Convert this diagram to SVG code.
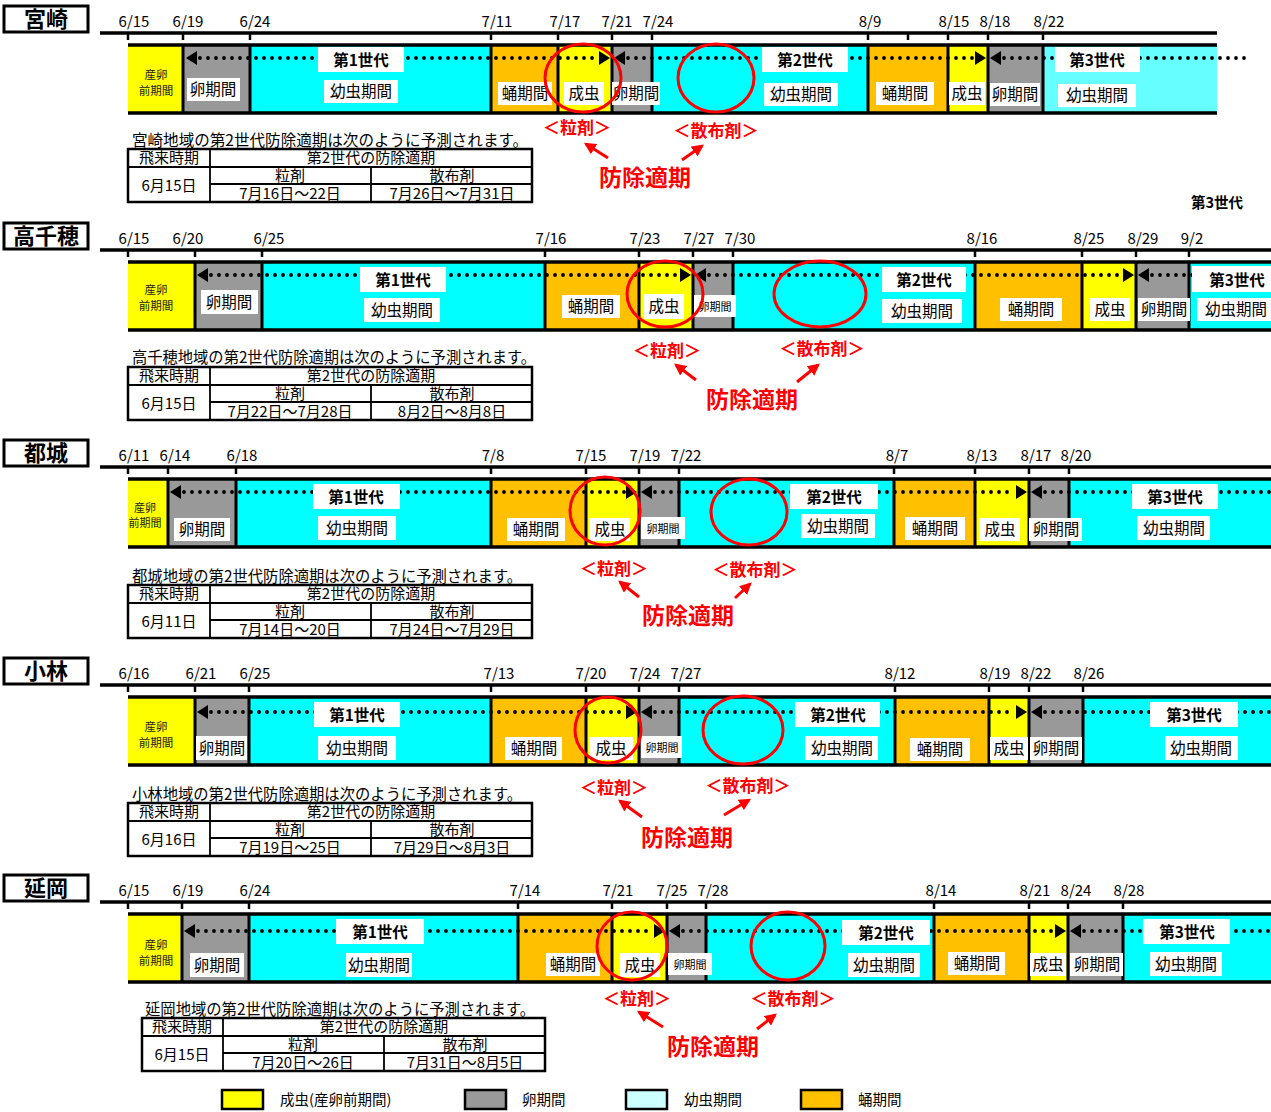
<svg xmlns="http://www.w3.org/2000/svg" width="1271" height="1112" viewBox="0 0 1271 1112">
<style>
text{font-family:"Noto Sans CJK JP","Noto Sans CJK SC",sans-serif;fill:#000}
.ttl{font-size:22px;font-weight:bold;text-anchor:middle}
.dt{font-size:15px;text-anchor:middle}
.lab{font-size:15.5px;text-anchor:middle}
.sm{font-size:11px;text-anchor:middle}
.gen{font-size:15.5px;font-weight:bold;text-anchor:middle}
.egg{font-size:11.5px;text-anchor:middle;fill:#222}
.tbt{font-size:15px;text-anchor:middle}
.intro{font-size:15.5px}
.rl{font-size:17px;font-weight:bold;fill:#f00;text-anchor:middle}
.rb{font-size:23px;font-weight:bold;fill:#f00;text-anchor:middle}
.tbox{fill:#fff;stroke:#000;stroke-width:3}
.axis{stroke:#000;stroke-width:3.5;fill:none}
.tick{stroke:#000;stroke-width:2.5;fill:none}
.bl{stroke:#000;stroke-width:3.5;fill:none}
.sep{stroke:#000;stroke-width:3;fill:none}
.y{fill:#ffff00}.g{fill:#999}.c{fill:#00ffff}.o{fill:#ffc000}.lc{fill:#66ffff}
.w{fill:#fff}
.dots{stroke:#000;stroke-width:3.8;stroke-linecap:round;stroke-dasharray:0 8;fill:none}
.circ{fill:none;stroke:#f00;stroke-width:3}
.ra{stroke:#f00;stroke-width:3;fill:none}
.tab{fill:#fff;stroke:#000;stroke-width:2.5}
.tl{stroke:#000;stroke-width:1.8;fill:none}
.lg{stroke:#000;stroke-width:2.5}
.lgt{font-size:14.5px}
</style>
<defs>
<marker id="rah" viewBox="0 0 10 10" refX="8" refY="5" markerWidth="4" markerHeight="4" orient="auto"><path d="M0 0L10 5L0 10z" fill="#f00"/></marker>
</defs>

<!-- 宮崎 -->
<g id="miyazaki">
<rect class="tbox" x="4" y="6" width="84" height="26"/>
<text class="ttl" x="46" y="27">宮崎</text>
<g class="dates">
<text class="dt" x="134" y="27">6/15</text><text class="dt" x="188" y="27">6/19</text><text class="dt" x="255" y="27">6/24</text><text class="dt" x="497" y="27">7/11</text><text class="dt" x="565" y="27">7/17</text><text class="dt" x="617" y="27">7/21</text><text class="dt" x="658" y="27">7/24</text><text class="dt" x="870" y="27">8/9</text><text class="dt" x="954" y="27">8/15</text><text class="dt" x="995" y="27">8/18</text><text class="dt" x="1049" y="27">8/22</text>
</g>
<line class="axis" x1="100" y1="33" x2="1217" y2="33"/>
<path class="tick" d="M128 33v7M183 33v7M250 33v7M491 33v7M558 33v7M612 33v7M652 33v7M868 33v7M908 33v7M948 33v7M988 33v7M1043 33v7"/>
<rect class="y" x="128" y="45" width="55" height="68"/>
<rect class="g" x="183" y="45" width="67" height="68"/>
<rect class="c" x="250" y="45" width="241" height="68"/>
<rect class="o" x="491" y="45" width="67" height="68"/>
<rect class="y" x="558" y="45" width="54" height="68"/>
<rect class="g" x="612" y="45" width="40" height="68"/>
<rect class="c" x="652" y="45" width="216" height="68"/>
<rect class="o" x="868" y="45" width="80" height="68"/>
<rect class="y" x="948" y="45" width="40" height="68"/>
<rect class="g" x="988" y="45" width="55" height="68"/>
<rect class="lc" x="1043" y="45" width="174" height="68"/>
<path class="bl" d="M128 45H1217M128 113H1217"/>
<path class="sep" d="M183 45V113M250 45V113M491 45V113M558 45V113M612 45V113M652 45V113M868 45V113M948 45V113M988 45V113M1043 45V113"/>
<line class="dots" x1="200" y1="58" x2="598" y2="58"/>
<polygon points="186,58 197,51 197,65"/><polygon points="610,58 599,51 599,65"/>
<line class="dots" x1="628" y1="58" x2="974" y2="58"/>
<polygon points="614,58 625,51 625,65"/><polygon points="986,58 975,51 975,65"/>
<line class="dots" x1="1004" y1="58" x2="1245" y2="58"/>
<polygon points="990,58 1001,51 1001,65"/>
<rect class="w" x="318" y="47" width="86" height="25"/><text class="gen" x="361" y="66">第1世代</text>
<rect class="w" x="762" y="47" width="86" height="25"/><text class="gen" x="805" y="66">第2世代</text>
<rect class="w" x="1055" y="47" width="85" height="25"/><text class="gen" x="1097" y="66">第3世代</text>
<text class="egg" x="156" y="79">産卵</text><text class="egg" x="156" y="95">前期間</text>
<rect class="w" x="187" y="78" width="53" height="23"/><text class="lab" x="213" y="95">卵期間</text>
<rect class="w" x="324" y="80" width="74" height="23"/><text class="lab" x="361" y="97">幼虫期間</text>
<rect class="w" x="498" y="82" width="54" height="23"/><text class="lab" x="525" y="99">蛹期間</text>
<rect class="w" x="564" y="82" width="40" height="23"/><text class="lab" x="584" y="99">成虫</text>
<rect class="w" x="612" y="82" width="48" height="23"/><text class="lab" x="636" y="99">卵期間</text>
<rect class="w" x="764" y="83" width="74" height="23"/><text class="lab" x="801" y="100">幼虫期間</text>
<rect class="w" x="876" y="82" width="58" height="23"/><text class="lab" x="905" y="99">蛹期間</text>
<rect class="w" x="949" y="82" width="36" height="23"/><text class="lab" x="967" y="99">成虫</text>
<rect class="w" x="990" y="83" width="50" height="23"/><text class="lab" x="1015" y="100">卵期間</text>
<rect class="w" x="1058" y="84" width="78" height="23"/><text class="lab" x="1097" y="101">幼虫期間</text>
<ellipse class="circ" cx="583" cy="78" rx="38" ry="34"/>
<ellipse class="circ" cx="716" cy="78" rx="38" ry="34"/>
<text class="rl" x="577" y="134">＜粒剤＞</text>
<text class="rl" x="716" y="137">＜散布剤＞</text>
<text class="rb" x="645" y="186">防除適期</text>
<text class="intro" x="132" y="146" textLength="396" lengthAdjust="spacingAndGlyphs">宮崎地域の第2世代防除適期は次のように予測されます。</text>
<rect class="tab" x="128" y="149" width="404" height="53"/>
<path class="tl" d="M128 167H532M210 184H532M210 149V202M371 167V202"/>
<text class="tbt" x="169" y="163">飛来時期</text><text class="tbt" x="371" y="163">第2世代の防除適期</text>
<text class="tbt" x="290" y="181">粒剤</text><text class="tbt" x="452" y="181">散布剤</text>
<text class="tbt" x="169" y="191">6月15日</text>
<text class="tbt" x="290" y="199">7月16日～22日</text><text class="tbt" x="452" y="199">7月26日～7月31日</text>
<text class="gen" x="1217" y="208" style="font-size:14.5px">第3世代</text>
</g>

<!-- 高千穂 -->
<g id="takachiho" transform="translate(0,217)">
<rect class="tbox" x="4" y="6" width="84" height="26"/>
<text class="ttl" x="46" y="27">高千穂</text>
<g class="dates">
<text class="dt" x="134" y="27">6/15</text><text class="dt" x="188" y="27">6/20</text><text class="dt" x="269" y="27">6/25</text><text class="dt" x="551" y="27">7/16</text><text class="dt" x="645" y="27">7/23</text><text class="dt" x="699" y="27">7/27</text><text class="dt" x="740" y="27">7/30</text><text class="dt" x="982" y="27">8/16</text><text class="dt" x="1089" y="27">8/25</text><text class="dt" x="1143" y="27">8/29</text><text class="dt" x="1192" y="27">9/2</text>
</g>
<line class="axis" x1="100" y1="33" x2="1271" y2="33"/>
<path class="tick" d="M128 33v7M195 33v7M262 33v7M545 33v7M639 33v7M693 33v7M733 33v7M975 33v7M1082 33v7M1136 33v7M1189 33v7"/>
<rect class="y" x="128" y="45" width="67" height="68"/>
<rect class="g" x="195" y="45" width="67" height="68"/>
<rect class="c" x="262" y="45" width="283" height="68"/>
<rect class="o" x="545" y="45" width="94" height="68"/>
<rect class="y" x="639" y="45" width="54" height="68"/>
<rect class="g" x="693" y="45" width="40" height="68"/>
<rect class="c" x="733" y="45" width="242" height="68"/>
<rect class="o" x="975" y="45" width="107" height="68"/>
<rect class="y" x="1082" y="45" width="54" height="68"/>
<rect class="g" x="1136" y="45" width="53" height="68"/>
<rect class="c" x="1189" y="45" width="82" height="68"/>
<path class="bl" d="M128 45H1271M128 113H1271"/>
<path class="sep" d="M195 45V113M262 45V113M545 45V113M639 45V113M693 45V113M733 45V113M975 45V113M1082 45V113M1136 45V113M1189 45V113"/>
<line class="dots" x1="211" y1="58" x2="679" y2="58"/>
<polygon points="197,58 208,51 208,65"/><polygon points="691,58 680,51 680,65"/>
<line class="dots" x1="709" y1="58" x2="1122" y2="58"/>
<polygon points="695,58 706,51 706,65"/><polygon points="1134,58 1123,51 1123,65"/>
<line class="dots" x1="1152" y1="58" x2="1271" y2="58"/>
<polygon points="1138,58 1149,51 1149,65"/>
<rect class="w" x="360" y="50" width="86" height="25"/><text class="gen" x="403" y="69">第1世代</text>
<rect class="w" x="882" y="50" width="84" height="25"/><text class="gen" x="924" y="69">第2世代</text>
<rect class="w" x="1192" y="49" width="79" height="26"/><text class="gen" x="1237" y="69">第3世代</text>
<text class="egg" x="156" y="77">産卵</text><text class="egg" x="156" y="93">前期間</text>
<rect class="w" x="201" y="73" width="57" height="24"/><text class="lab" x="229" y="91">卵期間</text>
<rect class="w" x="364" y="81" width="76" height="24"/><text class="lab" x="402" y="99">幼虫期間</text>
<rect class="w" x="562" y="78" width="58" height="23"/><text class="lab" x="591" y="95">蛹期間</text>
<rect class="w" x="644" y="77" width="40" height="25"/><text class="lab" x="664" y="95">成虫</text>
<rect class="w" x="694" y="78" width="42" height="22"/><text class="sm" x="715" y="94">卵期間</text>
<rect class="w" x="882" y="82" width="80" height="24"/><text class="lab" x="922" y="100">幼虫期間</text>
<rect class="w" x="1000" y="81" width="62" height="23"/><text class="lab" x="1031" y="98">蛹期間</text>
<rect class="w" x="1090" y="81" width="40" height="23"/><text class="lab" x="1110" y="98">成虫</text>
<rect class="w" x="1138" y="81" width="52" height="23"/><text class="lab" x="1164" y="98">卵期間</text>
<rect class="w" x="1197" y="81" width="74" height="23"/><text class="lab" x="1236" y="98">幼虫期間</text>
<ellipse class="circ" cx="665" cy="77" rx="38" ry="33"/>
<ellipse class="circ" cx="820" cy="77" rx="46" ry="33"/>
<text class="rl" x="667" y="140">＜粒剤＞</text>
<text class="rl" x="822" y="138">＜散布剤＞</text>
<text class="rb" x="752" y="191">防除適期</text>
<text class="intro" x="132" y="146" textLength="404" lengthAdjust="spacingAndGlyphs">高千穂地域の第2世代防除適期は次のように予測されます。</text>
<rect class="tab" x="128" y="150" width="404" height="53"/>
<path class="tl" d="M128 168H532M210 185H532M210 150V203M371 168V203"/>
<text class="tbt" x="169" y="164">飛来時期</text><text class="tbt" x="371" y="164">第2世代の防除適期</text>
<text class="tbt" x="290" y="182">粒剤</text><text class="tbt" x="452" y="182">散布剤</text>
<text class="tbt" x="169" y="192">6月15日</text>
<text class="tbt" x="290" y="200">7月22日～7月28日</text><text class="tbt" x="452" y="200">8月2日～8月8日</text>
</g>

<!-- 都城 -->
<g id="miyakonojo" transform="translate(0,434)">
<rect class="tbox" x="4" y="6" width="84" height="26"/>
<text class="ttl" x="46" y="27">都城</text>
<g class="dates">
<text class="dt" x="134" y="27">6/11</text><text class="dt" x="175" y="27">6/14</text><text class="dt" x="242" y="27">6/18</text><text class="dt" x="493" y="27">7/8</text><text class="dt" x="591" y="27">7/15</text><text class="dt" x="645" y="27">7/19</text><text class="dt" x="686" y="27">7/22</text><text class="dt" x="897" y="27">8/7</text><text class="dt" x="982" y="27">8/13</text><text class="dt" x="1036" y="27">8/17</text><text class="dt" x="1076" y="27">8/20</text>
</g>
<line class="axis" x1="100" y1="33" x2="1271" y2="33"/>
<path class="tick" d="M128 33v7M168 33v7M236 33v7M491 33v7M586 33v7M639 33v7M679 33v7M894 33v7M975 33v7M1029 33v7M1069 33v7"/>
<rect class="y" x="128" y="45" width="40" height="68"/>
<rect class="g" x="168" y="45" width="68" height="68"/>
<rect class="c" x="236" y="45" width="255" height="68"/>
<rect class="o" x="491" y="45" width="95" height="68"/>
<rect class="y" x="586" y="45" width="53" height="68"/>
<rect class="g" x="639" y="45" width="40" height="68"/>
<rect class="c" x="679" y="45" width="215" height="68"/>
<rect class="o" x="894" y="45" width="81" height="68"/>
<rect class="y" x="975" y="45" width="54" height="68"/>
<rect class="g" x="1029" y="45" width="40" height="68"/>
<rect class="c" x="1069" y="45" width="202" height="68"/>
<path class="bl" d="M128 45H1271M128 113H1271"/>
<path class="sep" d="M168 45V113M236 45V113M491 45V113M586 45V113M639 45V113M679 45V113M894 45V113M975 45V113M1029 45V113M1069 45V113"/>
<line class="dots" x1="184" y1="58" x2="625" y2="58"/>
<polygon points="170,58 181,51 181,65"/><polygon points="637,58 626,51 626,65"/>
<line class="dots" x1="655" y1="58" x2="1015" y2="58"/>
<polygon points="641,58 652,51 652,65"/><polygon points="1027,58 1016,51 1016,65"/>
<line class="dots" x1="1045" y1="58" x2="1271" y2="58"/>
<polygon points="1031,58 1042,51 1042,65"/>
<rect class="w" x="313" y="50" width="87" height="25"/><text class="gen" x="356" y="69">第1世代</text>
<rect class="w" x="790" y="50" width="88" height="25"/><text class="gen" x="834" y="69">第2世代</text>
<rect class="w" x="1132" y="50" width="86" height="25"/><text class="gen" x="1175" y="69">第3世代</text>
<text class="egg" x="145" y="78" style="font-size:11px">産卵</text><text class="egg" x="145" y="93" style="font-size:11px">前期間</text>
<rect class="w" x="174" y="84" width="56" height="23"/><text class="lab" x="202" y="101">卵期間</text>
<rect class="w" x="318" y="82" width="78" height="24"/><text class="lab" x="357" y="100">幼虫期間</text>
<rect class="w" x="507" y="84" width="58" height="23"/><text class="lab" x="536" y="101">蛹期間</text>
<rect class="w" x="589" y="84" width="41" height="23"/><text class="lab" x="610" y="101">成虫</text>
<rect class="w" x="641" y="83" width="44" height="22"/><text class="sm" x="663" y="99">卵期間</text>
<rect class="w" x="801" y="80" width="74" height="24"/><text class="lab" x="838" y="98">幼虫期間</text>
<rect class="w" x="905" y="83" width="60" height="23"/><text class="lab" x="935" y="100">蛹期間</text>
<rect class="w" x="979" y="84" width="41" height="23"/><text class="lab" x="1000" y="101">成虫</text>
<rect class="w" x="1029" y="84" width="53" height="23"/><text class="lab" x="1056" y="101">卵期間</text>
<rect class="w" x="1137" y="82" width="73" height="24"/><text class="lab" x="1174" y="100">幼虫期間</text>
<ellipse class="circ" cx="605" cy="77" rx="35" ry="34"/>
<ellipse class="circ" cx="749" cy="78" rx="38" ry="33"/>
<text class="rl" x="614" y="141">＜粒剤＞</text>
<text class="rl" x="755" y="142">＜散布剤＞</text>
<text class="rb" x="688" y="190">防除適期</text>
<text class="intro" x="132" y="148" textLength="390" lengthAdjust="spacingAndGlyphs">都城地域の第2世代防除適期は次のように予測されます。</text>
<rect class="tab" x="128" y="151" width="404" height="53"/>
<path class="tl" d="M128 169H532M210 186H532M210 151V204M371 169V204"/>
<text class="tbt" x="169" y="165">飛来時期</text><text class="tbt" x="371" y="165">第2世代の防除適期</text>
<text class="tbt" x="290" y="183">粒剤</text><text class="tbt" x="452" y="183">散布剤</text>
<text class="tbt" x="169" y="193">6月11日</text>
<text class="tbt" x="290" y="201">7月14日～20日</text><text class="tbt" x="452" y="201">7月24日～7月29日</text>
</g>

<!-- 小林 -->
<g id="kobayashi" transform="translate(0,652)">
<rect class="tbox" x="4" y="6" width="84" height="26"/>
<text class="ttl" x="46" y="27">小林</text>
<g class="dates">
<text class="dt" x="134" y="27">6/16</text><text class="dt" x="201" y="27">6/21</text><text class="dt" x="255" y="27">6/25</text><text class="dt" x="499" y="27">7/13</text><text class="dt" x="591" y="27">7/20</text><text class="dt" x="645" y="27">7/24</text><text class="dt" x="686" y="27">7/27</text><text class="dt" x="900" y="27">8/12</text><text class="dt" x="995" y="27">8/19</text><text class="dt" x="1036" y="27">8/22</text><text class="dt" x="1089" y="27">8/26</text>
</g>
<line class="axis" x1="100" y1="33" x2="1271" y2="33"/>
<path class="tick" d="M128 33v7M195 33v7M249 33v7M491 33v7M586 33v7M639 33v7M679 33v7M895 33v7M989 33v7M1029 33v7M1083 33v7"/>
<rect class="y" x="128" y="45" width="67" height="68"/>
<rect class="g" x="195" y="45" width="54" height="68"/>
<rect class="c" x="249" y="45" width="242" height="68"/>
<rect class="o" x="491" y="45" width="95" height="68"/>
<rect class="y" x="586" y="45" width="53" height="68"/>
<rect class="g" x="639" y="45" width="40" height="68"/>
<rect class="c" x="679" y="45" width="216" height="68"/>
<rect class="o" x="895" y="45" width="94" height="68"/>
<rect class="y" x="989" y="45" width="40" height="68"/>
<rect class="g" x="1029" y="45" width="54" height="68"/>
<rect class="c" x="1083" y="45" width="188" height="68"/>
<path class="bl" d="M128 45H1271M128 113H1271"/>
<path class="sep" d="M195 45V113M249 45V113M491 45V113M586 45V113M639 45V113M679 45V113M895 45V113M989 45V113M1029 45V113M1083 45V113"/>
<line class="dots" x1="211" y1="60" x2="625" y2="60"/>
<polygon points="197,60 208,53 208,67"/><polygon points="637,60 626,53 626,67"/>
<line class="dots" x1="655" y1="60" x2="1015" y2="60"/>
<polygon points="641,60 652,53 652,67"/><polygon points="1027,60 1016,53 1016,67"/>
<line class="dots" x1="1045" y1="60" x2="1271" y2="60"/>
<polygon points="1031,60 1042,53 1042,67"/>
<rect class="w" x="314" y="50" width="86" height="25"/><text class="gen" x="357" y="69">第1世代</text>
<rect class="w" x="795" y="50" width="85" height="25"/><text class="gen" x="838" y="69">第2世代</text>
<rect class="w" x="1150" y="50" width="88" height="25"/><text class="gen" x="1194" y="69">第3世代</text>
<text class="egg" x="156" y="79">産卵</text><text class="egg" x="156" y="95">前期間</text>
<rect class="w" x="196" y="84" width="51" height="24"/><text class="lab" x="222" y="102">卵期間</text>
<rect class="w" x="318" y="84" width="78" height="24"/><text class="lab" x="357" y="102">幼虫期間</text>
<rect class="w" x="505" y="85" width="57" height="23"/><text class="lab" x="534" y="102">蛹期間</text>
<rect class="w" x="589" y="85" width="44" height="23"/><text class="lab" x="611" y="102">成虫</text>
<rect class="w" x="641" y="84" width="41" height="22"/><text class="sm" x="662" y="100">卵期間</text>
<rect class="w" x="805" y="84" width="73" height="24"/><text class="lab" x="842" y="102">幼虫期間</text>
<rect class="w" x="910" y="86" width="60" height="23"/><text class="lab" x="940" y="103">蛹期間</text>
<rect class="w" x="990" y="85" width="38" height="23"/><text class="lab" x="1009" y="102">成虫</text>
<rect class="w" x="1030" y="85" width="52" height="23"/><text class="lab" x="1056" y="102">卵期間</text>
<rect class="w" x="1165" y="84" width="73" height="24"/><text class="lab" x="1201" y="102">幼虫期間</text>
<ellipse class="circ" cx="608" cy="78" rx="33" ry="33"/>
<ellipse class="circ" cx="743" cy="78" rx="40" ry="34"/>
<text class="rl" x="614" y="142">＜粒剤＞</text>
<text class="rl" x="748" y="140">＜散布剤＞</text>
<text class="rb" x="687" y="194">防除適期</text>
<text class="intro" x="132" y="148" textLength="390" lengthAdjust="spacingAndGlyphs">小林地域の第2世代防除適期は次のように予測されます。</text>
<rect class="tab" x="128" y="151" width="404" height="53"/>
<path class="tl" d="M128 169H532M210 186H532M210 151V204M371 169V204"/>
<text class="tbt" x="169" y="165">飛来時期</text><text class="tbt" x="371" y="165">第2世代の防除適期</text>
<text class="tbt" x="290" y="183">粒剤</text><text class="tbt" x="452" y="183">散布剤</text>
<text class="tbt" x="169" y="193">6月16日</text>
<text class="tbt" x="290" y="201">7月19日～25日</text><text class="tbt" x="452" y="201">7月29日～8月3日</text>
</g>

<!-- 延岡 -->
<g id="nobeoka" transform="translate(0,869)">
<rect class="tbox" x="4" y="6" width="84" height="26"/>
<text class="ttl" x="46" y="27">延岡</text>
<g class="dates">
<text class="dt" x="134" y="27">6/15</text><text class="dt" x="188" y="27">6/19</text><text class="dt" x="255" y="27">6/24</text><text class="dt" x="525" y="27">7/14</text><text class="dt" x="618" y="27">7/21</text><text class="dt" x="672" y="27">7/25</text><text class="dt" x="713" y="27">7/28</text><text class="dt" x="941" y="27">8/14</text><text class="dt" x="1035" y="27">8/21</text><text class="dt" x="1076" y="27">8/24</text><text class="dt" x="1129" y="27">8/28</text>
</g>
<line class="axis" x1="100" y1="33" x2="1271" y2="33"/>
<path class="tick" d="M128 33v7M182 33v7M249 33v7M518 33v7M612 33v7M667 33v7M706 33v7M934 33v7M1029 33v7M1068 33v7M1123 33v7"/>
<rect class="y" x="128" y="45" width="54" height="68"/>
<rect class="g" x="182" y="45" width="67" height="68"/>
<rect class="c" x="249" y="45" width="269" height="68"/>
<rect class="o" x="518" y="45" width="94" height="68"/>
<rect class="y" x="612" y="45" width="55" height="68"/>
<rect class="g" x="667" y="45" width="39" height="68"/>
<rect class="c" x="706" y="45" width="228" height="68"/>
<rect class="o" x="934" y="45" width="95" height="68"/>
<rect class="y" x="1029" y="45" width="39" height="68"/>
<rect class="g" x="1068" y="45" width="55" height="68"/>
<rect class="c" x="1123" y="45" width="148" height="68"/>
<path class="bl" d="M128 45H1271M128 113H1271"/>
<path class="sep" d="M182 45V113M249 45V113M518 45V113M612 45V113M667 45V113M706 45V113M934 45V113M1029 45V113M1068 45V113M1123 45V113"/>
<line class="dots" x1="198" y1="62" x2="653" y2="62"/>
<polygon points="184,62 195,55 195,69"/><polygon points="665,62 654,55 654,69"/>
<line class="dots" x1="683" y1="62" x2="1054" y2="62"/>
<polygon points="669,62 680,55 680,69"/><polygon points="1066,62 1055,55 1055,69"/>
<line class="dots" x1="1084" y1="62" x2="1271" y2="62"/>
<polygon points="1070,62 1081,55 1081,69"/>
<rect class="w" x="336" y="50" width="88" height="25"/><text class="gen" x="380" y="69">第1世代</text>
<rect class="w" x="842" y="51" width="88" height="25"/><text class="gen" x="886" y="70">第2世代</text>
<rect class="w" x="1143" y="50" width="87" height="25"/><text class="gen" x="1187" y="69">第3世代</text>
<text class="egg" x="156" y="80">産卵</text><text class="egg" x="156" y="96">前期間</text>
<rect class="w" x="190" y="84" width="54" height="24"/><text class="lab" x="217" y="102">卵期間</text>
<rect class="w" x="346" y="84" width="66" height="24"/><text class="lab" x="379" y="102">幼虫期間</text>
<rect class="w" x="546" y="84" width="54" height="23"/><text class="lab" x="573" y="101">蛹期間</text>
<rect class="w" x="620" y="84" width="40" height="24"/><text class="lab" x="640" y="102">成虫</text>
<rect class="w" x="668" y="84" width="44" height="22"/><text class="sm" x="690" y="100">卵期間</text>
<rect class="w" x="848" y="84" width="72" height="24"/><text class="lab" x="884" y="102">幼虫期間</text>
<rect class="w" x="948" y="83" width="57" height="23"/><text class="lab" x="977" y="100">蛹期間</text>
<rect class="w" x="1030" y="84" width="36" height="23"/><text class="lab" x="1048" y="101">成虫</text>
<rect class="w" x="1070" y="84" width="53" height="23"/><text class="lab" x="1097" y="101">卵期間</text>
<rect class="w" x="1150" y="83" width="72" height="24"/><text class="lab" x="1186" y="101">幼虫期間</text>
<ellipse class="circ" cx="632" cy="77" rx="35" ry="34"/>
<ellipse class="circ" cx="788" cy="77" rx="37" ry="34"/>
<text class="rl" x="637" y="136">＜粒剤＞</text>
<text class="rl" x="793" y="136">＜散布剤＞</text>
<text class="rb" x="713" y="186">防除適期</text>
<text class="intro" x="145" y="146" textLength="390" lengthAdjust="spacingAndGlyphs">延岡地域の第2世代防除適期は次のように予測されます。</text>
<rect class="tab" x="142" y="149" width="403" height="53"/>
<path class="tl" d="M142 167H545M223 184H545M223 149V202M384 167V202"/>
<text class="tbt" x="182" y="163">飛来時期</text><text class="tbt" x="384" y="163">第2世代の防除適期</text>
<text class="tbt" x="303" y="181">粒剤</text><text class="tbt" x="465" y="181">散布剤</text>
<text class="tbt" x="182" y="191">6月15日</text>
<text class="tbt" x="303" y="199">7月20日～26日</text><text class="tbt" x="465" y="199">7月31日～8月5日</text>
</g>

<!-- red arrows -->
<g id="connectors">
<line class="ra" x1="608" y1="158" x2="586" y2="144" marker-end="url(#rah)"/>
<line class="ra" x1="682" y1="160" x2="702" y2="146" marker-end="url(#rah)"/>
<line class="ra" x1="696" y1="380" x2="676" y2="365" marker-end="url(#rah)"/>
<line class="ra" x1="797" y1="382" x2="818" y2="365" marker-end="url(#rah)"/>
<line class="ra" x1="639" y1="597" x2="620" y2="582" marker-end="url(#rah)"/>
<line class="ra" x1="735" y1="598" x2="750" y2="584" marker-end="url(#rah)"/>
<line class="ra" x1="642" y1="817" x2="620" y2="801" marker-end="url(#rah)"/>
<line class="ra" x1="724" y1="815" x2="749" y2="800" marker-end="url(#rah)"/>
<line class="ra" x1="663" y1="1027" x2="639" y2="1012" marker-end="url(#rah)"/>
<line class="ra" x1="757" y1="1029" x2="775" y2="1015" marker-end="url(#rah)"/>
</g>

<!-- legend -->
<g id="legend">
<rect class="lg" x="222" y="1090" width="41" height="19" fill="#ffff00"/>
<text class="lgt" x="280" y="1105">成虫(産卵前期間)</text>
<rect class="lg" x="465" y="1090" width="41" height="19" fill="#999"/>
<text class="lgt" x="522" y="1105">卵期間</text>
<rect class="lg" x="626" y="1090" width="41" height="19" fill="#ccffff"/>
<text class="lgt" x="684" y="1105">幼虫期間</text>
<rect class="lg" x="801" y="1090" width="41" height="19" fill="#ffc000"/>
<text class="lgt" x="858" y="1105">蛹期間</text>
</g>
</svg>
